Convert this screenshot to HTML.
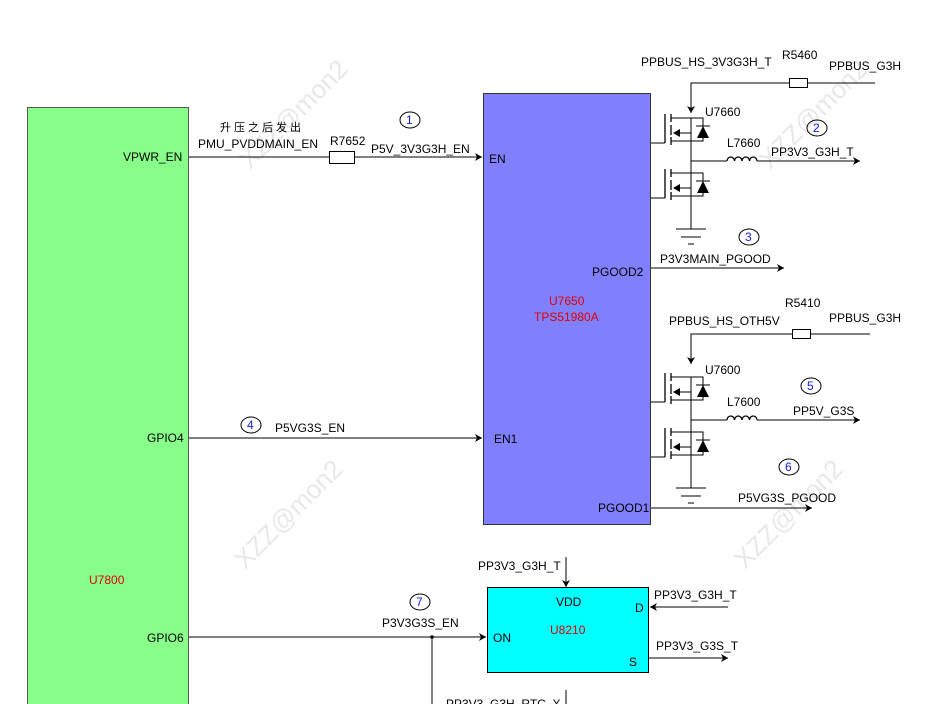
<!DOCTYPE html>
<html><head><meta charset="utf-8"><style>
html,body{margin:0;padding:0;background:#fff;}
svg{display:block;}
text{font-family:"Liberation Sans","Noto Sans CJK SC",sans-serif;font-size:12px;fill:#000;}
.r{fill:#e00000;}
.b{fill:#1020e0;}
.wm{font-size:26px;fill:#e8e8e8;}
</style></head><body>
<svg width="930" height="704" viewBox="0 0 930 704" xmlns="http://www.w3.org/2000/svg">
<defs>
<marker id="ah" markerWidth="8" markerHeight="8" refX="7" refY="4" orient="auto" markerUnits="userSpaceOnUse">
<path d="M0,0 L7,4 L0,8 L2,4 Z" fill="#000"/></marker>
<g id="fet">
<line x1="665" y1="0" x2="665" y2="29" stroke="#000" stroke-width="1.3"/>
<line x1="671" y1="0" x2="671" y2="8" stroke="#000" stroke-width="1.3"/>
<line x1="671" y1="11" x2="671" y2="21" stroke="#000" stroke-width="1.3"/>
<line x1="671" y1="23" x2="671" y2="31" stroke="#000" stroke-width="1.3"/>
<path d="M671,4 H691 M691,4 H703 V27 H691 M671,27 H691 M691,19 H675" fill="none" stroke="#000"/>
<path d="M673,19 L680,15 L680,23 Z" fill="#000"/>
<path d="M697,24 L709,24 L703,12 Z" fill="#000"/>
<line x1="696" y1="12" x2="710" y2="12" stroke="#000"/>
<line x1="651" y1="29" x2="665" y2="29" stroke="#000"/>
</g>
<g id="stage">
<use href="#fet"/>
<use href="#fet" transform="translate(0,55)"/>
<line x1="691" y1="4" x2="691" y2="115" stroke="#000"/>
<path d="M691,47 H727 M757,47 H860" fill="none" stroke="#000" marker-end="url(#ah)"/>
<path d="M727,47 a3.75,4 0 0 1 7.5,0 a3.75,4 0 0 1 7.5,0 a3.75,4 0 0 1 7.5,0 a3.75,4 0 0 1 7.5,0" fill="none" stroke="#000" stroke-width="1.3"/>
<line x1="676" y1="115" x2="706" y2="115" stroke="#000"/>
<line x1="681" y1="123" x2="701" y2="123" stroke="#000"/>
<line x1="688" y1="130" x2="694" y2="130" stroke="#000"/>
</g>
</defs>

<text class="wm" transform="translate(250,170) rotate(-45)">XZZ@mon2</text>
<text class="wm" transform="translate(770,170) rotate(-45)">XZZ@mon2</text>
<text class="wm" transform="translate(245,570) rotate(-45)">XZZ@mon2</text>
<text class="wm" transform="translate(745,570) rotate(-45)">XZZ@mon2</text>

<rect x="27.5" y="107.5" width="161" height="610" fill="#88ff88" stroke="#555"/>
<text x="123" y="161">VPWR_EN</text>
<text x="147" y="442">GPIO4</text>
<text x="147" y="642">GPIO6</text>
<text class="r" x="89" y="584">U7800</text>

<rect x="483.5" y="93.5" width="167" height="431" fill="#8080ff" stroke="#333"/>
<text x="489" y="163">EN</text>
<text x="494" y="443">EN1</text>
<text x="592" y="276">PGOOD2</text>
<text x="598" y="512">PGOOD1</text>
<text class="r" x="549" y="305">U7650</text>
<text class="r" x="534" y="321">TPS51980A</text>

<line x1="189" y1="157" x2="329" y2="157" stroke="#000"/>
<rect x="329.5" y="151.5" width="25" height="12" fill="#fff" stroke="#000"/>
<line x1="355" y1="157" x2="482" y2="157" stroke="#000" marker-end="url(#ah)"/>
<text x="220" y="131" style="font-size:11px;letter-spacing:3px">升压之后发出</text>
<text x="198" y="148">PMU_PVDDMAIN_EN</text>
<text x="330" y="145">R7652</text>
<text x="371" y="153">P5V_3V3G3H_EN</text>
<ellipse cx="410" cy="120" rx="10" ry="8" fill="none" stroke="#000"/><text class="b" x="406" y="124">1</text>

<line x1="189" y1="438" x2="482" y2="438" stroke="#000" marker-end="url(#ah)"/>
<text x="275" y="432">P5VG3S_EN</text>
<ellipse cx="251" cy="425" rx="10" ry="8" fill="none" stroke="#000"/><text class="b" x="247" y="429">4</text>

<path d="M875,83 H691 V113" fill="none" stroke="#000" marker-end="url(#ah)"/>
<rect x="789.5" y="78.5" width="18" height="9" fill="#fff" stroke="#000"/>
<text x="641" y="66">PPBUS_HS_3V3G3H_T</text>
<text x="782" y="59">R5460</text>
<text x="829" y="70">PPBUS_G3H</text>
<text x="705" y="116">U7660</text>
<text x="727" y="147">L7660</text>
<text x="771" y="156">PP3V3_G3H_T</text>
<ellipse cx="817" cy="128" rx="10" ry="8" fill="none" stroke="#000"/><text class="b" x="813" y="132">2</text>
<use href="#stage" transform="translate(0,114)"/>

<line x1="651" y1="268" x2="784" y2="268" stroke="#000" marker-end="url(#ah)"/>
<text x="660" y="263">P3V3MAIN_PGOOD</text>
<ellipse cx="749" cy="237" rx="10" ry="8" fill="none" stroke="#000"/><text class="b" x="745" y="241">3</text>

<path d="M870,334 H691 V364" fill="none" stroke="#000" marker-end="url(#ah)"/>
<rect x="792.5" y="329.5" width="18" height="9" fill="#fff" stroke="#000"/>
<text x="669" y="325">PPBUS_HS_OTH5V</text>
<text x="785" y="307">R5410</text>
<text x="829" y="322">PPBUS_G3H</text>
<text x="705" y="374">U7600</text>
<text x="727" y="406">L7600</text>
<text x="793" y="415">PP5V_G3S</text>
<ellipse cx="811" cy="386" rx="10" ry="8" fill="none" stroke="#000"/><text class="b" x="807" y="390">5</text>
<use href="#stage" transform="translate(0,373)"/>

<line x1="651" y1="508" x2="812" y2="508" stroke="#000" marker-end="url(#ah)"/>
<text x="738" y="502">P5VG3S_PGOOD</text>
<ellipse cx="789" cy="467" rx="10" ry="8" fill="none" stroke="#000"/><text class="b" x="785" y="471">6</text>

<rect x="487.5" y="587.5" width="161" height="85" fill="#00ffff" stroke="#000"/>
<text x="556" y="606">VDD</text>
<text x="635" y="612">D</text>
<text x="629" y="666">S</text>
<text x="493" y="642">ON</text>
<text class="r" x="550" y="634">U8210</text>
<line x1="566" y1="557" x2="566" y2="587" stroke="#000" marker-end="url(#ah)"/>
<text x="478" y="570">PP3V3_G3H_T</text>
<line x1="728" y1="607" x2="650" y2="607" stroke="#000" marker-end="url(#ah)"/>
<text x="654" y="599">PP3V3_G3H_T</text>
<line x1="649" y1="658" x2="728" y2="658" stroke="#000" marker-end="url(#ah)"/>
<text x="656" y="650">PP3V3_G3S_T</text>

<line x1="189" y1="637" x2="486" y2="637" stroke="#000" marker-end="url(#ah)"/>
<circle cx="432" cy="637" r="1.8" fill="#000"/>
<line x1="432" y1="637" x2="432" y2="704" stroke="#000"/>
<text x="382" y="627">P3V3G3S_EN</text>
<ellipse cx="420" cy="602" rx="10" ry="8" fill="none" stroke="#000"/><text class="b" x="416" y="606">7</text>
<line x1="566" y1="690" x2="566" y2="704" stroke="#000"/>
<text x="446" y="708">PP3V3_G3H_RTC_X</text>
</svg>
</body></html>
